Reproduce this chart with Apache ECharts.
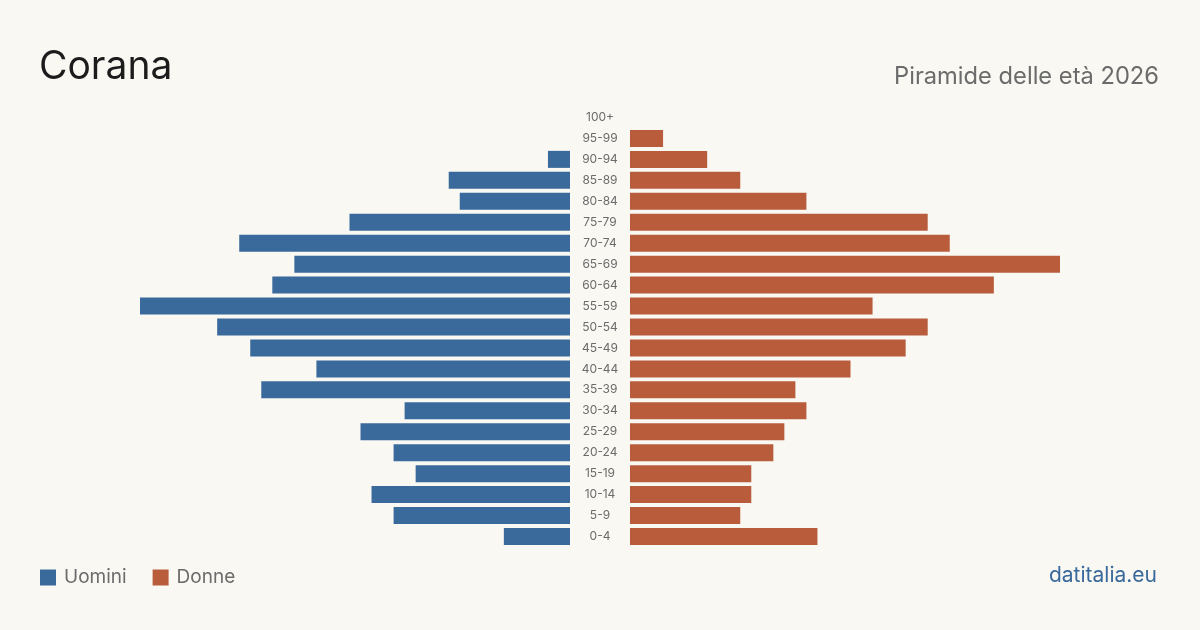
<!DOCTYPE html>
<html lang="it">
<head>
<meta charset="UTF-8">
<title>Corana - Piramide delle età 2026</title>
<script src="https://cdn.jsdelivr.net/npm/echarts@6/dist/echarts.min.js"></script>
<style>
  html, body { margin: 0; padding: 0; background: #f9f8f3; }
  #main { width: 1200px; height: 630px; }
</style>
</head>
<body>
<div id="main"></div>
<script>
// classi di età, dall'alto verso il basso
var classi = ['100+', '95-99', '90-94', '85-89', '80-84', '75-79', '70-74', '65-69', '60-64', '55-59',
  '50-54', '45-49', '40-44', '35-39', '30-34', '25-29', '20-24', '15-19', '10-14', '5-9', '0-4'];
var uomini = [0, 0, 2, 11, 10, 20, 30, 25, 27, 39, 32, 29, 23, 28, 15, 19, 16, 14, 18, 16, 6];
var donne  = [0, 3, 7, 10, 16, 27, 29, 39, 33, 22, 27, 25, 20, 15, 16, 14, 13, 11, 11, 10, 17];

var BLU = '#3a6a9b';
var ROSSO = '#b95c3c';
var FONT = 'Inter, "Noto Sans", sans-serif';
var maxVal = Math.max(Math.max.apply(null, uomini), Math.max.apply(null, donne));

var myChart = echarts.init(document.getElementById('main'));
var option = {
  backgroundColor: '#f9f8f3',
  animation: false,
  textStyle: { fontFamily: FONT },
  title: [
    { text: 'Corana', left: 39, top: 48, padding: 0,
      textStyle: { fontFamily: FONT, fontSize: 39, fontWeight: 'normal', color: '#1c1c1c' } },
    { text: 'Piramide delle età 2026', right: 41, top: 65, padding: 0,
      textStyle: { fontFamily: FONT, fontSize: 23.7, fontWeight: 'normal', color: '#6b6b6b' } },
    { text: 'datitalia.eu', right: 43, top: 565, padding: 0,
      textStyle: { fontFamily: FONT, fontSize: 21, fontWeight: 'normal', color: BLU } }
  ],
  legend: {
    left: 40, top: 568, padding: 0,
    itemWidth: 16, itemHeight: 16, itemGap: 26,
    icon: 'rect',
    textStyle: { fontFamily: FONT, fontSize: 19, color: '#6b6b6b', padding: [0, 0, 0, 3] },
    data: ['Uomini', 'Donne']
  },
  grid: [
    { left: 140, right: 630, top: 107, bottom: 83 },
    { left: 630, right: 140, top: 107, bottom: 83 }
  ],
  xAxis: [
    { type: 'value', gridIndex: 0, inverse: true, min: 0, max: maxVal, show: false },
    { type: 'value', gridIndex: 1, min: 0, max: maxVal, show: false }
  ],
  yAxis: [
    { type: 'category', gridIndex: 0, position: 'right', inverse: true, data: classi,
      axisLine: { show: false }, axisTick: { show: false },
      axisLabel: { align: 'center', margin: 30, fontFamily: FONT, fontSize: 12, color: '#6b6b6b' } },
    { type: 'category', gridIndex: 1, inverse: true, data: classi, show: false }
  ],
  series: [
    { name: 'Uomini', type: 'bar', xAxisIndex: 0, yAxisIndex: 0, data: uomini,
      barWidth: 17, itemStyle: { color: BLU } },
    { name: 'Donne', type: 'bar', xAxisIndex: 1, yAxisIndex: 1, data: donne,
      barWidth: 17, itemStyle: { color: ROSSO } }
  ]
};
myChart.setOption(option);
</script>
</body>
</html>
